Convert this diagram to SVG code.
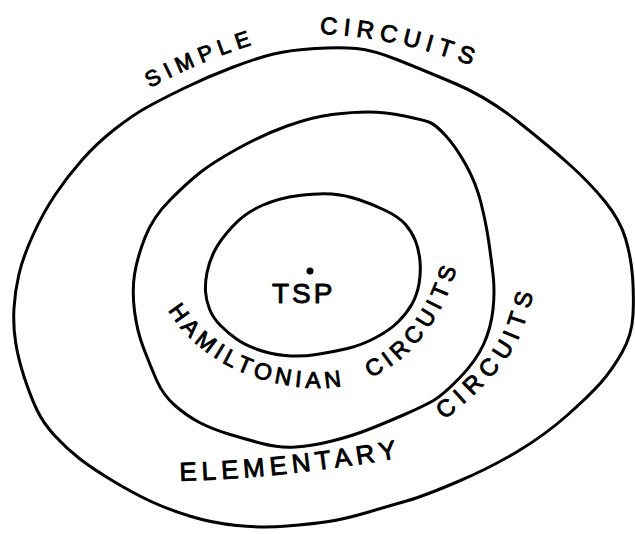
<svg xmlns="http://www.w3.org/2000/svg" xmlns:xlink="http://www.w3.org/1999/xlink" width="635" height="534" viewBox="0 0 635 534">
<style>
.curve{fill:none;stroke:#000;stroke-width:3;stroke-linejoin:round;stroke-linecap:round}
.lbl{font-family:"Liberation Sans",Arial,sans-serif;fill:#000;stroke:#000;stroke-width:0.9;stroke-linejoin:round}
</style>
<defs>
<path id="pSimple" d="M150,88 Q205,58 274,38"/>
<path id="pCircTop" d="M320,34 Q395,36 484,70"/>
<path id="pHam" d="M168,310 C196,358 257,388 320,388 C385,388 442,340 462,248"/>
<path id="pElem" d="M180,481 Q290,478 414,455"/>
<path id="pCircElem" d="M444,420 Q498,378 518,340 Q531,310 538,272"/>
</defs>
<rect width="635" height="534" fill="#fff"/>
<g id="simple-circuits">
<path class="curve" d="M273.5,54 Q290,50 315,48.5 Q340,47 356.5,48.5 Q373,50 398,60 Q423,70 455,83.5 Q487,97 518.5,122 Q550,147 570,165 Q590,183 605,201.5 Q620,220 625.5,238.5 Q631,257 632.5,276 Q634,295 633,315 Q632,335 622,352.5 Q612,370 601,382.5 Q590,395 567.5,415 Q545,435 517.5,451.5 Q490,468 457,482 Q424,496 406.5,501 Q389,506 367,512.5 Q345,519 328.5,521.5 Q312,524 287,526 Q262,528 237,525.5 Q212,523 189.5,516 Q167,509 150,501 Q133,493 113,481 Q93,469 80,459 Q67,449 55,436 Q43,423 36.5,409 Q30,395 24,376.5 Q18,358 15.5,341.5 Q13,325 14,308 Q15,291 19,274 Q23,257 33,235 Q43,213 55,195 Q67,177 82,160 Q97,143 115,129 Q133,115 146.5,107.5 Q160,100 183.5,88.5 Q207,77 232,67.5 Q257,58 273.5,54 Z"/>
<text class="lbl" font-size="22" letter-spacing="6"><textPath xlink:href="#pSimple" href="#pSimple">SIMPLE</textPath></text>
<text class="lbl" font-size="24" letter-spacing="6"><textPath xlink:href="#pCircTop" href="#pCircTop">CIRCUITS</textPath></text>
</g>
<g id="elementary-circuits">
<path class="curve" d="M368.5,112 Q385,112 404.5,116 Q424,120 430,122.5 Q436,125 446,136 Q456,147 466,165 Q476,183 481,203 Q486,223 488.5,240 Q491,257 493,274 Q495,291 493,309.5 Q491,328 483.5,344.5 Q476,361 459.5,378 Q443,395 433.5,400.5 Q424,406 404.5,414.5 Q385,423 368.5,429.5 Q352,436 332,441 Q312,446 295.5,447 Q279,448 262,443.5 Q245,439 228.5,434 Q212,429 199.5,422.5 Q187,416 175,405.5 Q163,395 156.5,380 Q150,365 143.5,348 Q137,331 134.5,311 Q132,291 134.5,274.5 Q137,258 145,237.5 Q153,217 170,200 Q187,183 199.5,173 Q212,163 237,149 Q262,135 287,126 Q312,117 332,114.5 Q352,112 368.5,112 Z"/>
<text class="lbl" font-size="26" letter-spacing="5"><textPath xlink:href="#pElem" href="#pElem">ELEMENTARY</textPath></text>
<text class="lbl" font-size="24" letter-spacing="6.5"><textPath xlink:href="#pCircElem" href="#pCircElem">CIRCUITS</textPath></text>
</g>
<g id="hamiltonian-circuits">
<path class="curve" d="M332,194 Q345,195 358.5,199.5 Q372,204 385.5,210.5 Q399,217 405.5,224.5 Q412,232 415.5,241 Q419,250 420,261.5 Q421,273 419,284 Q417,295 412,304 Q407,313 398.5,321.5 Q390,330 376,337.5 Q362,345 347.5,348.5 Q333,352 316.5,354.5 Q300,357 285,355.5 Q270,354 257.5,349.5 Q245,345 236.5,339 Q228,333 220.5,325.5 Q213,318 209.5,309 Q206,300 205.5,291.5 Q205,283 207,272.5 Q209,262 214.5,251 Q220,240 232.5,226.5 Q245,213 262,205.5 Q279,198 299,195.5 Q319,193 332,194 Z"/>
<text class="lbl" font-size="23" letter-spacing="4.5"><textPath xlink:href="#pHam" href="#pHam">HAMILTONIAN</textPath></text>
<text class="lbl" font-size="23" letter-spacing="5"><textPath xlink:href="#pHam" href="#pHam" startOffset="230">CIRCUITS</textPath></text>
</g>
<g id="tsp">
<circle cx="310" cy="271" r="3.5" fill="#000"/>
<text class="lbl" x="272" y="303" font-size="28" letter-spacing="3">TSP</text>
</g>
</svg>
